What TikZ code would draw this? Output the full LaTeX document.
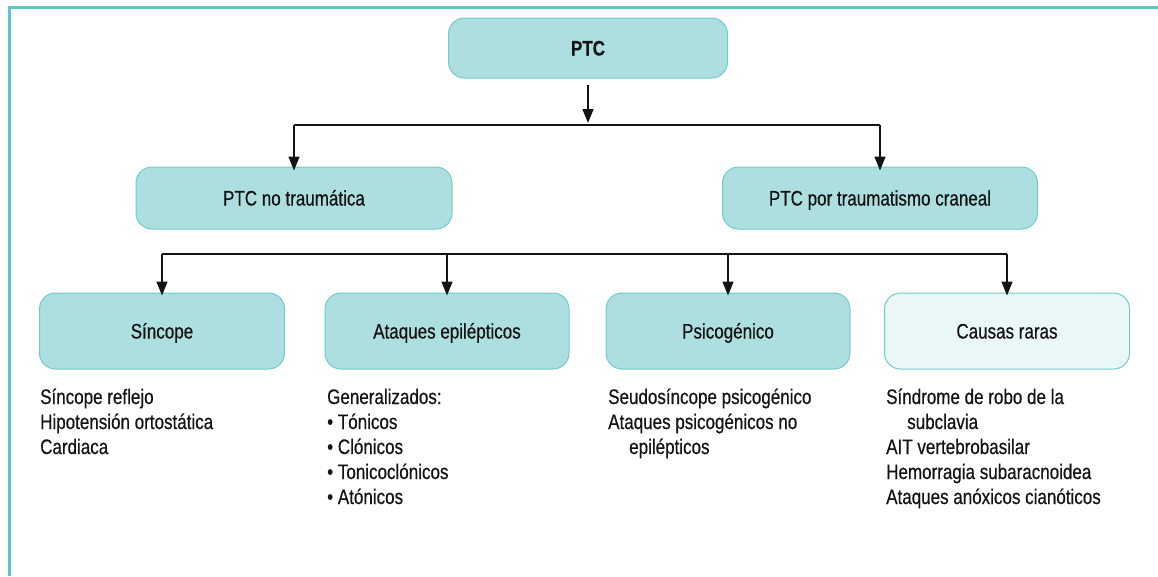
\documentclass[tikz,border=0pt]{standalone}
\usepackage{fontspec}
\setmainfont{Liberation Sans}[FakeStretch=0.81, FakeBold=0.5]
\usetikzlibrary{arrows.meta}

\definecolor{framec}{HTML}{5CC8C8}
\definecolor{boxfill}{HTML}{AEDFE0}
\definecolor{boxline}{HTML}{72CACA}
\definecolor{rarefill}{HTML}{EAF7F7}
\definecolor{ink}{HTML}{141414}

\newcommand{\txtsize}{\fontsize{21}{25}\selectfont}

\tikzset{
  box/.style={draw=boxline, fill=boxfill, line width=1pt, rounded corners=16pt,
    inner sep=0pt, text=ink, font=\txtsize, text height=15pt, text depth=0pt},
  rarebox/.style={box, fill=rarefill},
  listtext/.style={inner sep=0pt, anchor=base west, text=ink, font=\txtsize},
  link/.style={draw=ink, line width=1.5pt},
  arrowlink/.style={link, -{Triangle[length=14pt,width=11pt]}}
}

\newcommand{\ind}{\hspace*{21pt}}

\begin{document}
\begin{tikzpicture}[x=1pt, y=-1pt]
  \useasboundingbox (0,0) rectangle (1158,576);

  % outer frame (left and top edges)
  \draw[framec, line width=3pt] (9,576) -- (9,7.5) -- (1158,7.5);

  % boxes
  \node[box, minimum width=279pt, minimum height=60pt] (ptc) at (588,48) {\textbf{PTC}};
  \node[box, minimum width=316pt, minimum height=62pt] (notra) at (294,198) {PTC no traumática};
  \node[box, minimum width=315pt, minimum height=62pt] (tra) at (880,198) {PTC por traumatismo craneal};

  \node[box, minimum width=245pt, minimum height=76pt] (sinc) at (162,331) {Síncope};
  \node[box, minimum width=244pt, minimum height=76pt] (epi) at (447,331) {Ataques epilépticos};
  \node[box, minimum width=244pt, minimum height=76pt] (psi) at (728,331) {Psicogénico};
  \node[rarebox, minimum width=245pt, minimum height=76pt] (raras) at (1007,331) {Causas raras};

  % connector bus coordinates
  \coordinate (topbus) at (588,125);
  \coordinate (lowbus) at (162,254);

  % top level
  \draw[arrowlink] ([yshift=-6pt]ptc.south) -- ([yshift=2pt]ptc.south |- topbus);
  \draw[link] (notra.north |- topbus) -- (tra.north |- topbus);
  \draw[arrowlink] (notra.north |- topbus) -- ([yshift=-4pt]notra.north);
  \draw[arrowlink] (tra.north |- topbus) -- ([yshift=-4pt]tra.north);

  % second level
  \draw[link] (sinc.north |- lowbus) -- (raras.north |- lowbus);
  \foreach \n in {sinc,epi,psi,raras}
    \draw[arrowlink] (\n.north |- lowbus) -- ([yshift=-3pt]\n.north);

  % lists under the boxes
  \node[listtext] (lsinc) at (40,404) {\begin{tabular}[t]{@{}l@{}}
    Síncope reflejo\\ Hipotensión ortostática\\ Cardiaca\end{tabular}};
  \node[listtext] (lepi) at (327,404) {\begin{tabular}[t]{@{}l@{}}
    Generalizados:\\ • Tónicos\\ • Clónicos\\ • Tonicoclónicos\\ • Atónicos\end{tabular}};
  \node[listtext] (lpsi) at (608,404) {\begin{tabular}[t]{@{}l@{}}
    Seudosíncope psicogénico\\ Ataques psicogénicos no\\ \ind epilépticos\end{tabular}};
  \node[listtext] (lraras) at (886,404) {\begin{tabular}[t]{@{}l@{}}
    Síndrome de robo de la\\ \ind subclavia\\ AIT vertebrobasilar\\
    Hemorragia subaracnoidea\\ Ataques anóxicos cianóticos\end{tabular}};
\end{tikzpicture}
\end{document}
